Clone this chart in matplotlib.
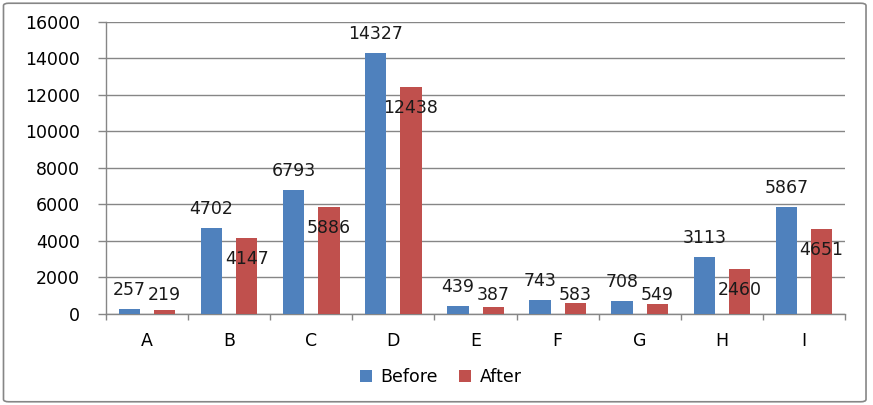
import matplotlib
matplotlib.use("Agg")
import matplotlib.pyplot as plt
import matplotlib.patches as patches
import numpy as np

# datos
categorias = ["A", "B", "C", "D", "E", "F", "G", "H", "I"]
antes = [257, 4702, 6793, 14327, 439, 743, 708, 3113, 5867]
despues = [219, 4147, 5886, 12438, 387, 583, 549, 2460, 4651]
y_ticks = [0, 2000, 4000, 6000, 8000, 10000, 12000, 14000, 16000]

AZUL = "#4F81BD"
ROJO = "#C0504D"
GRIS = "#868686"
FS = 12.5

fig = plt.figure(figsize=(8.73, 4.05), dpi=100)
ax = fig.add_axes([0.1214, 0.2247, 0.8466, 0.721])

x = np.arange(len(categorias))
ancho = 0.26
desp = 0.215

ax.bar(x - desp, antes, ancho, color=AZUL, label="Before", zorder=3)
ax.bar(x + desp, despues, ancho, color=ROJO, label="After", zorder=3)

# etiquetas de valores (estilo Excel)
for xi, v in zip(x, antes):
    ax.text(xi - desp, v + 1040, str(v), ha="center", va="center",
            fontsize=FS, color="#1a1a1a", zorder=4)
for xi, v in zip(x, despues):
    ax.text(xi + desp, max(v - 1150, 1040), str(v), ha="center", va="center",
            fontsize=FS, color="#1a1a1a", zorder=4)

ax.set_xlim(-0.5, len(categorias) - 0.5)
ax.set_ylim(0, 16000)
ax.set_yticks(y_ticks)
ax.set_yticklabels([str(t) for t in y_ticks], fontsize=FS)
ax.yaxis.grid(True, color=GRIS, linewidth=1.0, zorder=0)

ax.set_xticks(x)
ax.set_xticklabels(categorias, fontsize=FS)
ax.set_xticks(np.arange(-0.5, len(categorias)), minor=True)
ax.tick_params(axis="x", which="major", length=0, pad=13)
ax.tick_params(axis="x", which="minor", length=4, color=GRIS, width=1)
ax.tick_params(axis="y", length=5.8, color=GRIS, width=1, pad=13)

for lado in ["top", "right"]:
    ax.spines[lado].set_visible(False)
ax.spines["left"].set_color(GRIS)
ax.spines["bottom"].set_color(GRIS)
ax.spines["left"].set_linewidth(1.0)
ax.spines["bottom"].set_linewidth(1.0)

leg = fig.legend(loc="center", bbox_to_anchor=(0.505, 0.069), ncol=2,
                 frameon=False, fontsize=FS, handlelength=0.7,
                 handleheight=0.7, handletextpad=0.5, columnspacing=1.2)

# marco exterior del grafico
marco = patches.FancyBboxPatch((0.004, 0.008), 0.988, 0.984,
                               boxstyle="round,pad=0,rounding_size=0.006",
                               transform=fig.transFigure, fill=False,
                               edgecolor=GRIS, linewidth=1.2)
fig.patches.append(marco)

fig.savefig("out.png", dpi=100)
